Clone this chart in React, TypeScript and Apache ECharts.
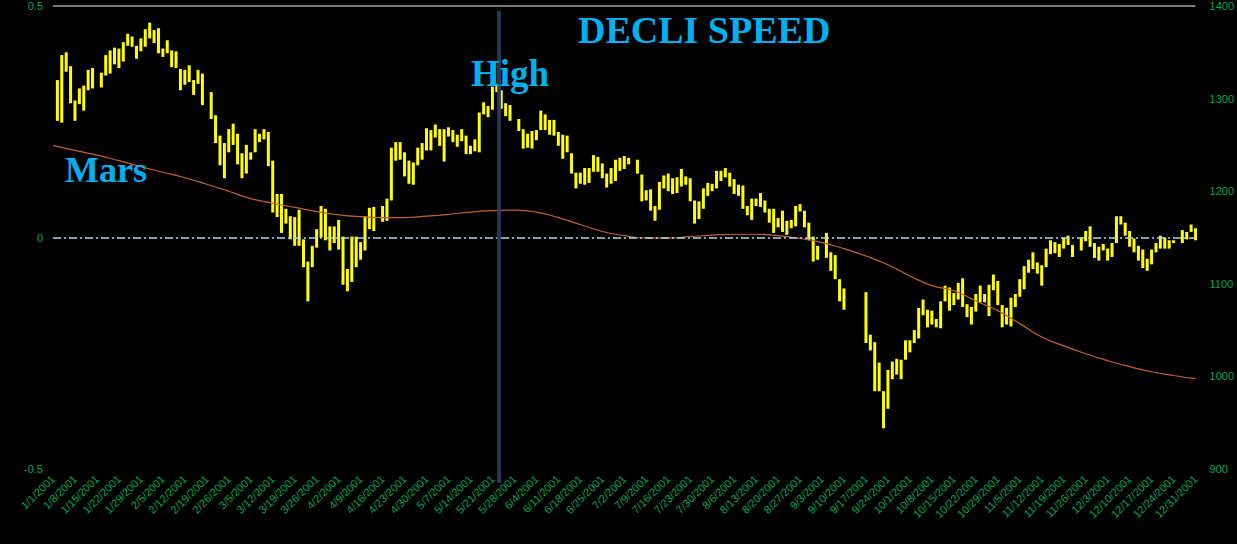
import React, { useEffect, useRef } from "react";
import * as echarts from "echarts";

// Monday tick labels (one per week)
const weekLabels = [
  "1/1/2001", "1/8/2001", "1/15/2001", "1/22/2001", "1/29/2001", "2/5/2001", "2/12/2001", "2/19/2001",
  "2/26/2001", "3/5/2001", "3/12/2001", "3/19/2001", "3/26/2001", "4/2/2001", "4/9/2001", "4/16/2001",
  "4/23/2001", "4/30/2001", "5/7/2001", "5/14/2001", "5/21/2001", "5/28/2001", "6/4/2001", "6/11/2001",
  "6/18/2001", "6/25/2001", "7/2/2001", "7/9/2001", "7/16/2001", "7/23/2001", "7/30/2001", "8/6/2001",
  "8/13/2001", "8/20/2001", "8/27/2001", "9/3/2001", "9/10/2001", "9/17/2001", "9/24/2001", "10/1/2001",
  "10/8/2001", "10/15/2001", "10/22/2001", "10/29/2001", "11/5/2001", "11/12/2001", "11/19/2001",
  "11/26/2001", "12/3/2001", "12/10/2001", "12/17/2001", "12/24/2001", "12/31/2001",
];

// Daily highs, Mon..Fri per week (null = market closed)
const highs = [
  null, 1320, 1347, 1350, 1335,
  1298, 1311, 1314, 1331, 1333,
  null, 1328, 1347, 1352, 1355,
  1354, 1361, 1370, 1367, 1357,
  1365, 1375, 1382, 1374, 1376,
  1354, 1363, 1352, 1351, 1332,
  1331, 1336, 1320, 1331, 1327,
  null, 1307, 1282, 1260, 1252,
  1267, 1273, 1262, 1241, 1250,
  1242, 1267, 1262, 1267, 1264,
  1233, 1197, 1197, 1181, 1173,
  1172, 1180, 1148, 1124, 1141,
  1159, 1184, 1181, 1162, 1162,
  1169, 1151, 1116, 1151, 1151,
  1145, 1173, 1182, 1183, null,
  1184, 1192, 1247, 1253, 1253,
  1242, 1233, 1231, 1247, 1252,
  1268, 1266, 1272, 1267, 1267,
  1269, 1266, 1261, 1267, 1260,
  1249, 1256, 1285, 1296, 1292,
  1313, 1316, 1309, 1295, 1293,
  null, 1278, 1267, 1262, 1265,
  1266, 1287, 1283, 1277, 1277,
  1264, 1261, 1260, 1241, 1220,
  1220, 1225, 1225, 1239, 1237,
  1230, 1219, 1225, 1234, 1236,
  1238, 1236, null, 1234, 1218,
  1201, 1202, 1184, 1210, 1217,
  1219, 1214, 1215, 1224, 1216,
  1214, 1190, 1189, 1203, 1209,
  1208, 1222, 1222, 1225, 1220,
  1213, 1207, 1206, 1184, 1192,
  1192, 1198, 1190, 1181, 1181,
  1171, 1179, 1168, 1169, 1184,
  1186, 1179, 1166, 1151, 1141,
  null, 1155, 1134, 1131, 1105,
  1095, null, null, null, null,
  1091, 1045, 1037, 1015, 984,
  1007, 1016, 1019, 1018, 1039,
  1039, 1050, 1074, 1083, 1072,
  1071, 1062, 1081, 1098, 1096,
  1090, 1101, 1106, 1078, 1075,
  1089, 1098, 1089, 1099, 1110,
  1103, 1077, 1074, 1085, 1089,
  1105, 1119, 1126, 1134, 1123,
  1120, 1138, 1147, 1145, 1143,
  1150, 1152, 1142, null, 1150,
  1157, 1162, 1144, 1140, 1143,
  1138, 1144, 1173, 1173, 1166,
  1157, 1149, 1141, 1137, 1127,
  1137, 1144, 1152, 1150, 1147,
  1147, null, 1158, 1156, 1164,
  1160,
];

// Daily lows, Mon..Fri per week (null = market closed)
const lows = [
  null, 1276, 1274, 1329, 1295,
  1276, 1294, 1287, 1309, 1311,
  null, 1312, 1325, 1327, 1337,
  1333, 1340, 1357, 1356, 1343,
  1351, 1356, 1365, 1360, 1349,
  1345, 1349, 1334, 1333, 1309,
  1315, 1318, 1304, 1316, 1293,
  null, 1278, 1252, 1228, 1214,
  1242, 1250, 1229, 1214, 1219,
  1234, 1242, 1253, 1256, 1227,
  1177, 1172, 1155, 1165, 1148,
  1141, 1141, 1118, 1081, 1118,
  1139, 1150, 1147, 1136, 1144,
  1137, 1099, 1092, 1102, 1118,
  1126, 1136, 1159, 1157, null,
  1167, 1168, 1190, 1233, 1234,
  1216, 1208, 1207, 1228, 1234,
  1244, 1244, 1258, 1249, 1232,
  1259, 1253, 1248, 1254, 1240,
  1240, 1243, 1242, 1283, 1280,
  1288, 1307, 1289, 1281, 1276,
  null, 1265, 1246, 1247, 1246,
  1255, 1266, 1266, 1261, 1260,
  1249, 1235, 1242, 1219, 1203,
  1208, 1207, 1209, 1221, 1221,
  1214, 1204, 1208, 1211, 1222,
  1224, 1229, null, 1219, 1189,
  1190, 1179, 1168, 1180, 1203,
  1200, 1197, 1198, 1205, 1207,
  1189, 1165, 1170, 1181, 1195,
  1200, 1203, 1211, 1215, 1205,
  1197, 1195, 1181, 1174, 1169,
  1184, 1183, 1177, 1166, 1155,
  1161, 1156, 1153, 1160, 1162,
  1178, 1161, 1147, 1124, 1126,
  null, 1128, 1114, 1105, 1081,
  1072, null, null, null, null,
  1036, 1028, 984, 984, 944,
  965, 997, 1002, 997, 1018,
  1026, 1036, 1041, 1066, 1053,
  1056, 1053, 1052, 1081, 1071,
  1077, 1083, 1075, 1064, 1056,
  1070, 1080, 1080, 1065, 1093,
  1077, 1053, 1056, 1054, 1075,
  1086, 1094, 1112, 1116, 1111,
  1098, 1118, 1132, 1133, 1129,
  1138, 1142, 1129, null, 1136,
  1146, 1140, 1128, 1125, 1136,
  1125, 1129, 1144, 1164, 1152,
  1140, 1134, 1125, 1117, 1114,
  1121, 1134, 1138, 1138, 1138,
  1144, null, 1144, 1148, 1156,
  1147,
];

// Mars declination speed, sampled each Monday
const marsSpeed = [
  0.199, 0.188, 0.178, 0.166, 0.153, 0.141, 0.129, 0.115, 0.1, 0.084, 0.074, 0.065, 0.056, 0.049,
  0.045, 0.043, 0.043, 0.046, 0.05, 0.055, 0.058, 0.059, 0.055, 0.043, 0.028, 0.013, 0.004, -0.001,
  -0.001, 0.002, 0.005, 0.007, 0.007, 0.004, -0.002, -0.011, -0.024, -0.04, -0.059, -0.083, -0.104,
  -0.115, -0.137, -0.158, -0.186, -0.215, -0.234, -0.251, -0.266, -0.279, -0.29, -0.298, -0.305,
];

const highDayA = 101; // 5/22/2001
const highDayB = 102; // 5/23/2001

export default function App() {
  const ref = useRef<HTMLDivElement>(null);

  useEffect(() => {
    if (!ref.current) return;
    const chart = echarts.init(ref.current, null, { renderer: "svg" });
    const categories = highs.map((_, i) => String(i));
    const barData: any[] = [];
    highs.forEach((h, i) => {
      const l = lows[i];
      if (h != null && l != null) barData.push([i, l, h]);
    });
    const lineData = marsSpeed.map((v, w) => [w * 5, v]);
    const green = "#00a651";
    const sans = "Liberation Sans, Arial, sans-serif";

    chart.setOption({
      animation: false,
      backgroundColor: "#000000",
      grid: { left: 53, right: 40, top: 6, bottom: 75 },
      xAxis: {
        type: "category",
        data: categories,
        boundaryGap: false,
        axisLine: { show: false },
        axisTick: { show: false },
        splitLine: { show: false },
        axisLabel: {
          interval: (idx: number) => idx % 5 === 0,
          formatter: (_v: string, idx: number) => weekLabels[idx / 5] ?? "",
          rotate: 45,
          color: green,
          fontSize: 11,
          fontFamily: sans,
          margin: 8,
        },
      },
      yAxis: [
        {
          type: "value",
          min: -0.5,
          max: 0.5,
          interval: 0.5,
          axisLine: { show: false },
          axisTick: { show: false },
          splitLine: { show: false },
          axisLabel: { color: green, fontSize: 11, fontFamily: sans, margin: 10, formatter: (v: number) => String(v) },
        },
        {
          type: "value",
          min: 900,
          max: 1400,
          interval: 100,
          position: "right",
          axisLine: { show: false },
          axisTick: { show: false },
          splitLine: { show: false },
          axisLabel: { color: green, fontSize: 11, fontFamily: sans, margin: 14, formatter: (v: number) => String(v) },
        },
      ],
      series: [
        {
          type: "line",
          yAxisIndex: 0,
          data: lineData,
          smooth: true,
          showSymbol: false,
          lineStyle: { color: "#c0622c", width: 1.2 },
          z: 3,
          markLine: {
            silent: true,
            symbol: "none",
            label: { show: false },
            data: [
              { yAxis: 0, lineStyle: { color: "#add8e6", type: [8, 3, 2, 3], width: 1.5 } },
              { yAxis: 0.5, lineStyle: { color: "#a0a0a0", type: "solid", width: 1.5 } },
            ],
          },
        },
        {
          type: "custom",
          yAxisIndex: 1,
          data: barData,
          encode: { x: 0, y: [1, 2] },
          z: 2,
          renderItem: (_params: any, api: any) => {
            const x = api.value(0);
            const pLow = api.coord([x, api.value(1)]);
            const pHigh = api.coord([x, api.value(2)]);
            return {
              type: "rect",
              shape: { x: pHigh[0] - 1.5, y: pHigh[1], width: 3, height: Math.max(1, pLow[1] - pHigh[1]) },
              style: { fill: "#ffff00" },
            };
          },
        },
      ],
    });

    const a = chart.convertToPixel({ xAxisIndex: 0 }, highDayA) as number;
    const b = chart.convertToPixel({ xAxisIndex: 0 }, highDayB) as number;
    const vx = (a + b) / 2;
    const titleFont = "Liberation Serif, Times New Roman, serif";
    chart.setOption({
      graphic: [
        {
          type: "line",
          z: 50,
          shape: { x1: vx, y1: 11, x2: vx, y2: 483 },
          style: { stroke: "#2a3c5e", lineWidth: 4, opacity: 0.92 },
          silent: true,
        },
        {
          type: "text",
          z: 60,
          x: 578,
          y: 30,
          style: { text: "DECLI SPEED", fill: "#00b0f0", font: `bold 38px ${titleFont}`, align: "left", verticalAlign: "middle" },
        },
        {
          type: "text",
          z: 60,
          x: 471,
          y: 73,
          style: { text: "High", fill: "#00b0f0", font: `bold 37px ${titleFont}`, align: "left", verticalAlign: "middle" },
        },
        {
          type: "text",
          z: 60,
          x: 65,
          y: 170,
          style: { text: "Mars", fill: "#00b0f0", font: `bold 36px ${titleFont}`, align: "left", verticalAlign: "middle" },
        },
      ],
    });

    return () => chart.dispose();
  }, []);

  return <div ref={ref} style={{ position: "fixed", left: 0, top: 0, width: 1237, height: 544 }} />;
}
